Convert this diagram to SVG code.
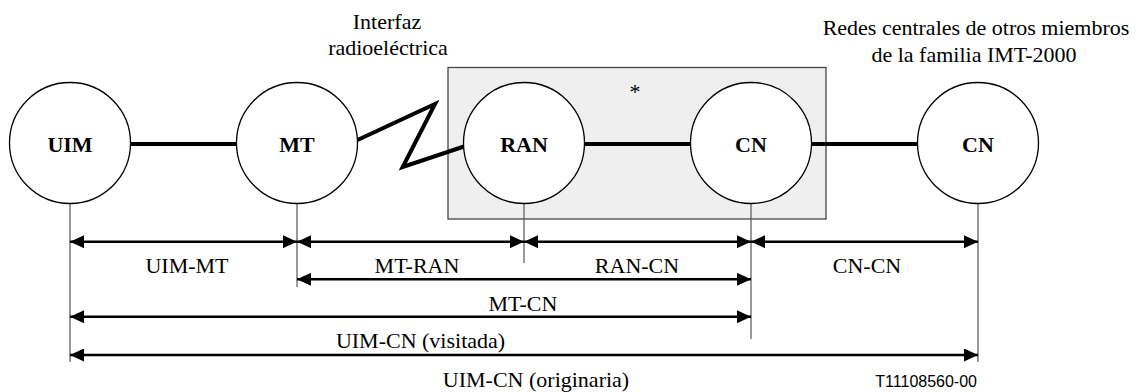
<svg xmlns="http://www.w3.org/2000/svg" width="1136" height="392" viewBox="0 0 1136 392">
<style>
  .node { fill: #ffffff; stroke: #000000; stroke-width: 1.3; }
  .lbl { font-family: 'Liberation Serif', 'Times New Roman', Times, 'DejaVu Serif', serif; font-size: 22px; fill: #000; text-anchor: middle; }
  .bold { font-weight: bold; }
  .thick { stroke: #000; stroke-width: 4; fill: none; }
  .dim { stroke: #000; stroke-width: 2.5; fill: none; marker-start: url(#ah); marker-end: url(#ah); }
  .ext { stroke: #555; stroke-width: 1.2; fill: none; }
  .code { font-family: 'Liberation Sans', Arial, sans-serif; font-size: 16px; fill: #000; text-anchor: end; }
</style>
<defs>
  <marker id="ah" viewBox="0 0 14 13" refX="14" refY="6.5" markerWidth="14" markerHeight="13" markerUnits="userSpaceOnUse" orient="auto-start-reverse">
    <path d="M0,0 L14,6.5 L0,13 z" fill="#000"/>
  </marker>
</defs>
<rect width="1136" height="392" fill="#ffffff"/>

<g id="core-network-box">
  <rect x="448" y="67.5" width="378" height="151.5" fill="#efefef" stroke="#444" stroke-width="1.3"/>
  <text class="lbl" font-family="Liberation Serif, serif" x="635" y="99">*</text>
</g>

<g id="connectors">
  <line class="thick" x1="130" y1="144" x2="237" y2="144"/>
  <polyline class="thick" stroke-linejoin="miter" points="357.5,140 435,104 402.7,167 464,146.5"/>
  <line class="thick" x1="584" y1="144" x2="691" y2="144"/>
  <line class="thick" x1="811" y1="144" x2="918" y2="144"/>
</g>

<g id="extension-lines">
  <line class="ext" x1="70" y1="203.5" x2="70" y2="362"/>
  <line class="ext" x1="297" y1="203.5" x2="297" y2="287"/>
  <line class="ext" x1="524" y1="203.5" x2="524" y2="263"/>
  <line class="ext" x1="751" y1="203.5" x2="751" y2="339"/>
  <line class="ext" x1="978" y1="203.5" x2="978" y2="362"/>
</g>

<g id="node-uim">
  <circle class="node" cx="70" cy="143" r="60.5"/>
  <text class="lbl bold" font-family="Liberation Serif, serif" x="70" y="151.5">UIM</text>
</g>
<g id="node-mt">
  <circle class="node" cx="297" cy="143" r="60.5"/>
  <text class="lbl bold" font-family="Liberation Serif, serif" x="297" y="151.5">MT</text>
</g>
<g id="node-ran">
  <circle class="node" cx="524" cy="143" r="60.5"/>
  <text class="lbl bold" font-family="Liberation Serif, serif" x="524" y="151.5">RAN</text>
</g>
<g id="node-cn-visited">
  <circle class="node" cx="751" cy="143" r="60.5"/>
  <text class="lbl bold" font-family="Liberation Serif, serif" x="751" y="151.5">CN</text>
</g>
<g id="node-cn-other">
  <circle class="node" cx="978" cy="143" r="60.5"/>
  <text class="lbl bold" font-family="Liberation Serif, serif" x="978" y="151.5">CN</text>
</g>

<g id="annotations">
  <text class="lbl" font-family="Liberation Serif, serif" x="387" y="29">Interfaz</text>
  <text class="lbl" font-family="Liberation Serif, serif" x="388" y="55">radioeléctrica</text>
  <text class="lbl" font-family="Liberation Serif, serif" x="976" y="35">Redes centrales de otros miembros</text>
  <text class="lbl" font-family="Liberation Serif, serif" x="974" y="61.5">de la familia IMT-2000</text>
</g>

<g id="dimension-arrows">
  <line class="dim" x1="70" y1="241.7" x2="297" y2="241.7"/>
  <line class="dim" x1="297" y1="241.7" x2="524" y2="241.7"/>
  <line class="dim" x1="524" y1="241.7" x2="751" y2="241.7"/>
  <line class="dim" x1="751" y1="241.7" x2="978" y2="241.7"/>
  <line class="dim" x1="297" y1="279.3" x2="751" y2="279.3"/>
  <line class="dim" x1="70" y1="316.7" x2="751" y2="316.7"/>
  <line class="dim" x1="70" y1="355" x2="978" y2="355"/>
</g>

<g id="dimension-labels">
  <text class="lbl" font-family="Liberation Serif, serif" x="187" y="272.5">UIM-MT</text>
  <text class="lbl" font-family="Liberation Serif, serif" x="417" y="272.5">MT-RAN</text>
  <text class="lbl" font-family="Liberation Serif, serif" x="637" y="272.5">RAN-CN</text>
  <text class="lbl" font-family="Liberation Serif, serif" x="867" y="272.5">CN-CN</text>
  <text class="lbl" font-family="Liberation Serif, serif" x="523" y="311">MT-CN</text>
  <text class="lbl" font-family="Liberation Serif, serif" x="420.5" y="348">UIM-CN (visitada)</text>
  <text class="lbl" font-family="Liberation Serif, serif" x="536" y="387">UIM-CN (originaria)</text>
  <text class="code" font-family="Liberation Sans, sans-serif" x="977" y="387">T11108560-00</text>
</g>
</svg>
